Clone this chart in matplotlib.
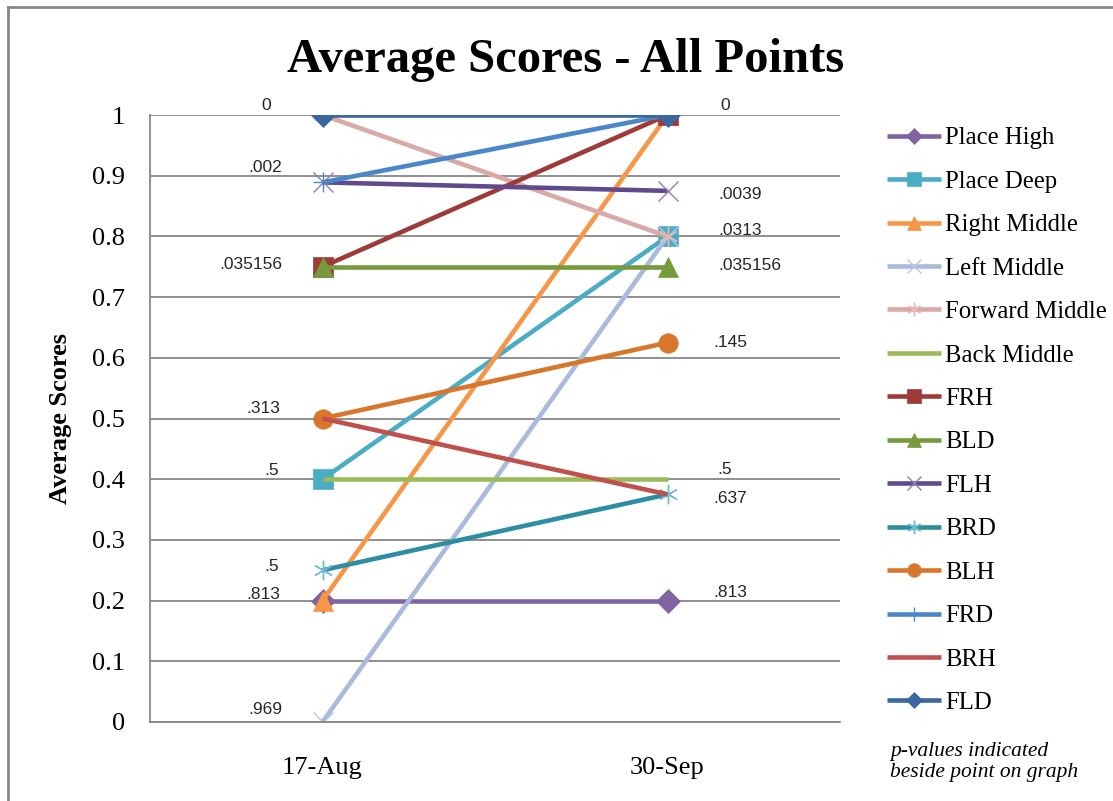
import matplotlib.pyplot as plt
from matplotlib.lines import Line2D

# Average scores per position on the two test dates
dates = ['17-Aug', '30-Sep']
series = ['Place High', 'Place Deep', 'Right Middle', 'Left Middle', 'Forward Middle',
          'Back Middle', 'FRH', 'BLD', 'FLH', 'BRD', 'BLH', 'FRD', 'BRH', 'FLD']
aug_scores = [0.2, 0.4, 0.2, 0.0, 1.0, 0.4, 0.75, 0.75, 0.889, 0.25, 0.5, 0.889, 0.5, 1.0]
sep_scores = [0.2, 0.8, 1.0, 0.8, 0.8, 0.4, 1.0, 0.75, 0.875, 0.375, 0.625, 1.0, 0.375, 1.0]

# p-values written next to the score levels on each date
aug_p_levels = [1.0, 0.889, 0.75, 0.5, 0.4, 0.25, 0.2, 0.0]
aug_p_text = ['0', '.002', '.035156', '.313', '.5', '.5', '.813', '.969']
sep_p_levels = [1.0, 0.875, 0.8, 0.75, 0.625, 0.4, 0.375, 0.2]
sep_p_text = ['0', '.0039', '.0313', '.035156', '.145', '.5', '.637', '.813']

# line colour, marker, marker colour
styles = [
    ('#8064A2', 'D', '#8064A2'),
    ('#4BACC6', 's', '#4BACC6'),
    ('#F79646', '^', '#F79646'),
    ('#A9BBDC', 'x', '#B7C6E4'),
    ('#DBA9A5', (6, 2, 0), '#E8B7B3'),
    ('#9BBB59', None, None),
    ('#9E3B38', 's', '#9E3B38'),
    ('#779A3C', '^', '#779A3C'),
    ('#5F4B8B', 'x', '#8E80B4'),
    ('#2C8DA3', (6, 2, 0), '#6DBBD0'),
    ('#D8772B', 'o', '#D8772B'),
    ('#4A86C8', '+', '#4A86C8'),
    ('#C0504D', None, None),
    ('#3A679E', 'D', '#3A679E'),
]
msizes = {'D': 12, 's': 14.5, '^': 14, 'x': 14, '+': 14, 'o': 14}

serif = 'Liberation Serif'
sans = 'Liberation Sans'
grey = '#878787'

fig = plt.figure(figsize=(11.13, 8.01), dpi=100)
ax = fig.add_axes([150 / 1113, 1 - 722 / 801, 690 / 1113, 607 / 801])

xs = [0.5, 1.5]
for name, a, s, (lc, mk, mc) in zip(series, aug_scores, sep_scores, styles):
    if mk is None:
        ax.plot(xs, [a, s], color=lc, lw=3.3, label=name, solid_capstyle='butt')
    else:
        thin = mk in ('x', '+') or isinstance(mk, tuple)
        ms = 14 if isinstance(mk, tuple) else msizes[mk]
        ax.plot(xs, [a, s], color=lc, lw=3.3, label=name, solid_capstyle='butt',
                marker=mk, markersize=ms, markerfacecolor=mc, markeredgecolor=mc,
                markeredgewidth=1.0 if thin else 0.5)

ax.set_xlim(0, 2)
ax.set_ylim(0, 1)
ax.set_xticks(xs)
ax.set_xticklabels(dates, fontfamily=serif, fontsize=19)
yt = [i / 10 for i in range(11)]
ax.set_yticks(yt)
ax.set_yticklabels(['0'] + ['%.1f' % v for v in yt[1:-1]] + ['1'], fontfamily=serif, fontsize=19)
ax.tick_params(axis='y', length=0, pad=18)
ax.tick_params(axis='x', length=0, pad=25)
ax.yaxis.grid(True, color=grey, lw=1.3)
ax.set_axisbelow(True)
for side in ('top', 'right'):
    ax.spines[side].set_visible(False)
for side in ('left', 'bottom'):
    ax.spines[side].set_color(grey)
    ax.spines[side].set_linewidth(1.3)

# p-value labels, placed in pixels from each score level
aug_dx = [-51, -40, -40, -42, -44, -44, -42, -40]
aug_dy = [10, 15, 2, 10, 9, 4, 6, 12]
for lv, t, dx, dy in zip(aug_p_levels, aug_p_text, aug_dx, aug_dy):
    ax.annotate(t, (xs[0], lv), xytext=(dx, dy), textcoords='offset pixels',
                ha='right', va='center', fontfamily=sans, fontsize=12.5, color='#262626')
sep_dx = [53, 51, 51, 51, 46, 50, 46, 46]
sep_dy = [10, -4, 6, 1, 0, 10, -4, 8]
for lv, t, dx, dy in zip(sep_p_levels, sep_p_text, sep_dx, sep_dy):
    ax.annotate(t, (xs[1], lv), xytext=(dx, dy), textcoords='offset pixels',
                ha='left', va='center', fontfamily=sans, fontsize=12.5, color='#262626')

fig.text(566 / 1113, 1 - 60 / 801, 'Average Scores - All Points', ha='center', va='center',
         fontfamily=serif, fontsize=35, fontweight='bold')
fig.text(61 / 1113, 1 - 418 / 801, 'Average Scores', ha='center', va='center', rotation=90,
         fontfamily=serif, fontsize=19, fontweight='bold')

ax.legend(loc='upper left', bbox_to_anchor=(887 / 1113, 1 - 127 / 801),
          bbox_transform=fig.transFigure, frameon=False, borderpad=0, borderaxespad=0,
          prop={'family': serif, 'size': 17.8}, handlelength=2.2, handletextpad=0.16,
          labelspacing=0.855, markerscale=0.7)

fig.text(890 / 1113, 1 - 762 / 801, 'p-values indicated\nbeside point on graph',
         ha='left', va='center', fontfamily=serif, fontsize=15.5, style='italic',
         linespacing=1.2)

# outer chart border (left and top edges)
fig.add_artist(Line2D([8 / 1113, 8 / 1113], [0, 1 - 7 / 801], transform=fig.transFigure,
                      color=grey, lw=2))
fig.add_artist(Line2D([8 / 1113, 1], [1 - 7 / 801, 1 - 7 / 801], transform=fig.transFigure,
                      color=grey, lw=2))

fig.savefig('out.png', dpi=100)
